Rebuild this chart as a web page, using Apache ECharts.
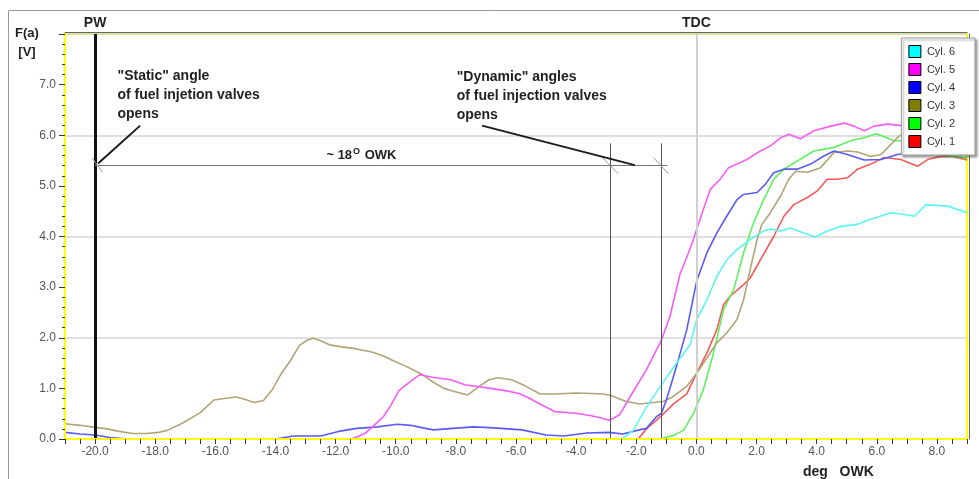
<!DOCTYPE html>
<html>
<head>
<meta charset="utf-8">
<style>
  html, body { margin: 0; padding: 0; background: #fff; }
  #chart { width: 979px; height: 479px; }
</style>
<script src="https://cdn.jsdelivr.net/npm/echarts@6/dist/echarts.min.js"></script>
</head>
<body>
<div id="chart"></div>
<script>
// cylinder curves, [deg OWK, F(a) V]
var cyl1 = [[-21,0],[-1.94,0],[-1.66,0.2],[-1.16,0.46],[-0.77,0.69],[-0.32,0.89],[0.01,1.3],[0.35,1.7],[0.68,2.16],[0.9,2.65],[1.12,2.82],[1.57,3.05],[1.79,3.18],[2.13,3.54],[2.57,4.0],[2.91,4.4],[3.24,4.63],[3.69,4.77],[4.02,4.9],[4.35,5.13],[4.69,5.13],[5.02,5.16],[5.36,5.33],[5.8,5.43],[6.25,5.56],[6.8,5.52],[7.36,5.39],[7.69,5.52],[8.1,5.58],[8.53,5.58],[9.0,5.51]];
var cyl2 = [[-21,0],[-1.5,0],[-1.16,0.01],[-0.77,0.07],[-0.43,0.17],[-0.1,0.5],[0.23,0.97],[0.57,1.7],[0.9,2.55],[1.24,2.95],[1.57,3.68],[1.9,4.27],[2.24,4.73],[2.57,5.13],[2.91,5.33],[3.35,5.49],[3.91,5.69],[4.58,5.76],[5.13,5.89],[5.58,5.95],[5.97,6.03],[6.25,5.97],[6.58,5.89],[6.8,5.89],[7.5,5.75],[8.3,5.6],[9.0,5.55]];
var cyl3 = [[-21,0.3],[-20.5,0.27],[-20,0.23],[-19.6,0.2],[-19.2,0.15],[-18.75,0.11],[-18.3,0.11],[-17.9,0.13],[-17.6,0.17],[-17.2,0.28],[-16.9,0.38],[-16.5,0.52],[-16.05,0.77],[-15.7,0.8],[-15.3,0.83],[-15.0,0.78],[-14.7,0.72],[-14.4,0.76],[-14.1,0.98],[-13.8,1.3],[-13.5,1.55],[-13.2,1.85],[-12.95,1.95],[-12.75,1.99],[-12.5,1.94],[-12.2,1.86],[-11.8,1.82],[-11.4,1.79],[-10.8,1.72],[-10.4,1.64],[-10.1,1.55],[-9.6,1.42],[-9.1,1.27],[-8.8,1.14],[-8.4,1.0],[-8.05,0.94],[-7.6,0.87],[-7.2,1.05],[-6.9,1.17],[-6.6,1.21],[-6.15,1.17],[-5.7,1.05],[-5.2,0.89],[-4.7,0.89],[-4.0,0.91],[-3.5,0.9],[-3.1,0.89],[-2.85,0.86],[-2.33,0.74],[-1.88,0.69],[-1.44,0.72],[-1.1,0.74],[-0.77,0.84],[-0.32,1.04],[0.0,1.29],[0.35,1.6],[0.68,1.9],[1.0,2.09],[1.35,2.36],[1.57,2.75],[1.79,3.35],[2.02,3.94],[2.18,4.24],[2.46,4.47],[2.8,4.8],[3.07,5.13],[3.3,5.29],[3.69,5.27],[4.13,5.36],[4.58,5.66],[5.02,5.69],[5.36,5.67],[5.8,5.58],[6.14,5.62],[6.47,5.82],[6.75,5.99],[7.2,6.08],[7.8,6.05],[8.4,5.98],[9.0,5.92]];
var cyl4 = [[-21,0.13],[-20.5,0.1],[-20,0.08],[-19.5,0.03],[-18.9,0],[-14.0,0],[-13.6,0.04],[-13.4,0.06],[-12.5,0.06],[-11.9,0.15],[-11.3,0.21],[-10.6,0.24],[-9.95,0.29],[-9.5,0.27],[-9.1,0.22],[-8.75,0.18],[-8.1,0.21],[-7.4,0.24],[-6.75,0.22],[-6.5,0.21],[-5.8,0.18],[-5.0,0.08],[-4.4,0.06],[-3.65,0.12],[-2.9,0.13],[-2.45,0.1],[-1.9,0.18],[-1.66,0.21],[-1.33,0.44],[-1.16,0.51],[-1.0,0.77],[-0.8,1.16],[-0.66,1.44],[-0.32,2.16],[0.01,3.12],[0.35,3.68],[0.68,4.07],[1.01,4.4],[1.35,4.73],[1.57,4.83],[2.02,4.87],[2.29,5.03],[2.57,5.26],[2.91,5.33],[3.35,5.33],[3.8,5.43],[4.24,5.59],[4.58,5.69],[5.02,5.62],[5.58,5.51],[6.14,5.52],[6.69,5.62],[7.3,5.68],[8.0,5.7],[9.0,5.72]];
var cyl5 = [[-21,0],[-11.5,0],[-11.25,0.05],[-11.0,0.12],[-10.7,0.28],[-10.4,0.45],[-10.15,0.68],[-9.9,0.95],[-9.55,1.12],[-9.2,1.27],[-8.77,1.22],[-8.17,1.17],[-7.7,1.07],[-6.85,1.0],[-6.3,0.95],[-5.9,0.9],[-5.6,0.82],[-5.3,0.72],[-4.7,0.54],[-4.0,0.51],[-3.5,0.46],[-3.2,0.42],[-2.9,0.37],[-2.55,0.48],[-2.2,0.84],[-1.66,1.37],[-1.16,1.96],[-0.88,2.42],[-0.55,3.25],[-0.3,3.62],[-0.1,3.94],[0.12,4.34],[0.46,4.93],[0.79,5.13],[1.07,5.36],[1.35,5.43],[1.68,5.52],[2.13,5.69],[2.46,5.79],[2.8,5.95],[3.07,6.02],[3.46,5.93],[3.91,6.09],[4.47,6.18],[4.91,6.24],[5.24,6.18],[5.58,6.09],[5.91,6.18],[6.36,6.22],[6.69,6.2],[7.3,6.15],[8.0,6.1],[9.0,6.05]];
var cyl6 = [[-21,0],[-2.6,0],[-2.44,0.02],[-2.1,0.17],[-1.66,0.63],[-1.21,1.03],[-0.66,1.5],[-0.21,1.86],[0.01,2.36],[0.35,2.75],[0.68,3.21],[1.01,3.54],[1.35,3.74],[1.79,3.94],[2.24,4.11],[2.46,4.15],[2.8,4.11],[3.13,4.17],[3.57,4.07],[3.96,3.99],[4.35,4.11],[4.8,4.2],[5.36,4.24],[5.8,4.34],[6.47,4.47],[7.0,4.43],[7.25,4.4],[7.64,4.63],[8.36,4.6],[9.0,4.47]];

var seriesNames = ['Cyl. 6', 'Cyl. 5', 'Cyl. 4', 'Cyl. 3', 'Cyl. 2', 'Cyl. 1'];
var seriesData = [cyl6, cyl5, cyl4, cyl3, cyl2, cyl1];
// legend swatch colours and (lighter) trace colours
var swatchColors = ['#00ffff', '#ff00ff', '#0000ff', '#808000', '#00ff00', '#ff0000'];
var traceColors = ['#5cf5f5', '#f55ef5', '#5a5af5', '#aea676', '#5ef05e', '#f55a5a'];

// annotation angles
var pwAngle = -20;
var tdcAngle = 0;
var dynAngles = [-2.87, -1.18];
var dimLevel = 5.4;

var font = 'Liberation Sans, Arial, sans-serif';
var chart = echarts.init(document.getElementById('chart'));

var series = seriesNames.map(function (name, i) {
  return {
    name: name,
    type: 'line',
    data: seriesData[i],
    showSymbol: false,
    symbol: 'none',
    z: 2 + (6 - i) * 0.01,
    itemStyle: { color: swatchColors[i] },
    lineStyle: { color: traceColors[i], width: 1.6 },
    animation: false
  };
});

var thin = { color: '#555', width: 1, type: 'solid' };
var cross = { color: '#9a9a9a', width: 1, type: 'solid' };
var pointer = { color: '#1a1a1a', width: 2, type: 'solid' };
var boldText = { fontFamily: font, fontWeight: 'bold', fontSize: 14, color: '#222' };

// annotation lines and texts
series.push({
  name: 'annot',
  type: 'line',
  data: [],
  silent: true,
  animation: false,
  markLine: {
    silent: true,
    symbol: 'none',
    animation: false,
    label: { show: false },
    lineStyle: { type: 'solid' },
    data: [
      { xAxis: tdcAngle, lineStyle: { color: '#d0d0d0', width: 2, type: 'solid' },
        label: Object.assign({ show: true, position: 'end', formatter: 'TDC', distance: 4 }, boldText) },
      { xAxis: pwAngle, lineStyle: { color: '#111', width: 3, type: 'solid' },
        label: Object.assign({ show: true, position: 'end', formatter: 'PW', distance: 4 }, boldText) },
      [{ coord: [pwAngle, dimLevel], lineStyle: { color: '#777', width: 1, type: 'solid' } }, { coord: [-0.96, dimLevel] }],
      [{ coord: [dynAngles[0], 5.84], lineStyle: thin }, { coord: [dynAngles[0], 0] }],
      [{ coord: [dynAngles[1], 5.84], lineStyle: thin }, { coord: [dynAngles[1], 0] }],
      [{ coord: [-20.1, 5.55], lineStyle: cross }, { coord: [-19.75, 5.27] }],
      [{ coord: [-3.13, 5.56], lineStyle: cross }, { coord: [-2.6, 5.24] }],
      [{ coord: [-1.43, 5.56], lineStyle: cross }, { coord: [-0.93, 5.24] }],
      [{ coord: [-19.9, 5.44], lineStyle: pointer }, { coord: [-18.5, 6.19] }],
      [{ coord: [-7.13, 6.19], lineStyle: pointer }, { coord: [-2.05, 5.41] }]
    ]
  },
  markPoint: {
    silent: true,
    animation: false,
    symbol: 'circle',
    symbolSize: 1,
    itemStyle: { color: 'rgba(0,0,0,0)' },
    data: [
      { coord: [-19.27, 6.785],
        label: Object.assign({ show: true, position: 'right', distance: 0, align: 'left', lineHeight: 19,
          formatter: '"Static" angle\nof fuel injetion valves\nopens' }, boldText) },
      { coord: [-7.99, 6.765],
        label: Object.assign({ show: true, position: 'right', distance: 0, align: 'left', lineHeight: 19,
          formatter: '"Dynamic" angles\nof fuel injection valves\nopens' }, boldText) },
      { coord: [-11.14, 5.6],
        label: { show: true, position: 'inside', formatter: '~ 18{s|O} OWK',
          fontFamily: font, fontWeight: 'bold', fontSize: 13, color: '#222',
          rich: { s: { fontFamily: font, fontSize: 9, color: '#222', padding: [0, 1, 8, 1] } } } }
    ]
  }
});

chart.setOption({
  animation: false,
  backgroundColor: '#fff',
  grid: { left: 65, right: 12, top: 34, bottom: 40, show: true, borderColor: '#ffff00', borderWidth: 2 },
  legend: {
    data: seriesNames,
    orient: 'vertical',
    right: 4,
    top: 38,
    icon: 'rect',
    itemWidth: 12,
    itemHeight: 12,
    itemGap: 5,
    padding: [7, 20, 7, 7],
    backgroundColor: '#fff',
    borderColor: '#999',
    borderWidth: 1,
    shadowColor: 'rgba(0,0,0,0.35)',
    shadowOffsetX: 2,
    shadowOffsetY: 2,
    shadowBlur: 2,
    selectedMode: false,
    itemStyle: { borderColor: '#000', borderWidth: 1 },
    textStyle: { fontFamily: font, fontSize: 11, color: '#333', padding: [0, 0, 0, 1] }
  },
  xAxis: [{
    type: 'value',
    min: -21,
    max: 9,
    interval: 0.5,
    z: 5,
    axisLine: { onZero: false, lineStyle: { color: '#ffff00', width: 2 } },
    axisTick: { length: 5, lineStyle: { color: '#333' } },
    axisLabel: {
      margin: 7,
      fontFamily: font, fontSize: 12, color: '#555',
      formatter: function (v) {
        return Math.abs(v / 2 - Math.round(v / 2)) < 1e-6 && v > -21 && v < 9 ? v.toFixed(1) : '';
      }
    },
    splitLine: { show: false }
  }, {
    type: 'value',
    position: 'top',
    min: -21,
    max: 9,
    offset: 2,
    axisLine: { onZero: false, lineStyle: { color: '#666', width: 1 } },
    axisTick: { show: false },
    axisLabel: { show: false },
    splitLine: { show: false }
  }],
  yAxis: [{
    type: 'value',
    min: 0,
    max: 8,
    interval: 1,
    z: 5,
    axisLine: { show: true, onZero: false, lineStyle: { color: '#ffff00', width: 2 } },
    axisTick: { show: true, length: 6, lineStyle: { color: '#333' } },
    minorTick: { show: true, splitNumber: 5, length: 3, lineStyle: { color: '#333' } },
    axisLabel: {
      margin: 9,
      fontFamily: font, fontSize: 12, color: '#555',
      formatter: function (v) { return v < 7.5 ? v.toFixed(1) : ''; }
    },
    splitLine: { show: false }
  }, {
    type: 'value',
    position: 'right',
    min: 0,
    max: 8,
    interval: 2,
    offset: 2,
    axisLine: { show: true, onZero: false, lineStyle: { color: '#666', width: 1 } },
    axisTick: { show: false },
    axisLabel: { show: false },
    splitLine: { show: true, lineStyle: { color: '#d4d4d4', width: 1.5 } }
  }],
  graphic: [
    { type: 'line', shape: { x1: 8.5, y1: 10.5, x2: 979, y2: 10.5 }, style: { stroke: '#999', lineWidth: 1 }, silent: true },
    { type: 'line', shape: { x1: 8.5, y1: 10.5, x2: 8.5, y2: 479 }, style: { stroke: '#999', lineWidth: 1 }, silent: true },
    { type: 'text', x: 27, y: 33, style: { text: 'F(a)', font: 'bold 13px ' + font, fill: '#222', align: 'center', verticalAlign: 'middle' } },
    { type: 'text', x: 27, y: 52, style: { text: '[V]', font: 'bold 13px ' + font, fill: '#222', align: 'center', verticalAlign: 'middle' } },
    { type: 'text', x: 803, y: 472, style: { text: 'deg   OWK', font: 'bold 14px ' + font, fill: '#222', align: 'left', verticalAlign: 'middle' } }
  ],
  series: series
});
</script>
</body>
</html>
